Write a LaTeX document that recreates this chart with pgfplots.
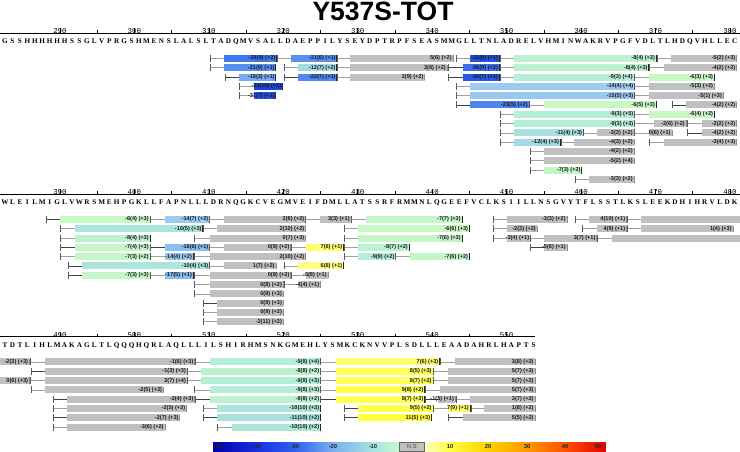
\documentclass[border=0pt]{standalone}
\usepackage{fontspec}
\setmainfont{Liberation Sans}
\newfontfamily\seqfont{Liberation Serif}
\newfontfamily\tickfont{Liberation Mono}
\usepackage{pgfplots}
\pgfplotsset{compat=1.18}

% peptide colours (deuterium uptake difference)
\definecolor{m33}{HTML}{1E46DC}
\definecolor{m31}{HTML}{2550E2}
\definecolor{m30}{HTML}{2A58E6}
\definecolor{m28}{HTML}{3F78EE}
\definecolor{m26}{HTML}{3A70EC}
\definecolor{m23}{HTML}{4E84F0}
\definecolor{m22}{HTML}{5088F0}
\definecolor{m21}{HTML}{5890F2}
\definecolor{m18}{HTML}{78ACF4}
\definecolor{m17}{HTML}{88BCF2}
\definecolor{m16}{HTML}{8CBEF2}
\definecolor{m15}{HTML}{98C8F0}
\definecolor{m14}{HTML}{9CCAF0}
\definecolor{m12}{HTML}{A4DAE6}
\definecolor{m11}{HTML}{A8E0E0}
\definecolor{m10}{HTML}{ACE6DA}
\definecolor{m9}{HTML}{B4EED6}
\definecolor{m8}{HTML}{BCF2D0}
\definecolor{m7}{HTML}{C4F6C8}
\definecolor{m6}{HTML}{C8F8C4}
\definecolor{ns}{HTML}{C0C0C0}
\definecolor{p6}{HTML}{FFFF80}
\definecolor{p7}{HTML}{FFFF6A}
\definecolor{p8}{HTML}{FFFF58}
\definecolor{p9}{HTML}{FFFF50}
\definecolor{p11}{HTML}{FFFF40}
\definecolor{lt}{HTML}{A0A0A0}
\definecolor{dk}{HTML}{404040}

\newlength\resw \setlength\resw{7.4447pt}
\def\spreadA#1{\ifx\relax#1\else\makebox[\resw][c]{#1}\expandafter\spreadA\fi}
\newcommand\spreadseq[1]{\spreadA#1\relax}

\def\nsname{ns}
% \pep{row}{start}{box start}{box end}{colour}{label}{line colour}
\newcommand\pep[7]{%
  \addplot[#7, line width=0.7pt] coordinates {(#2,-#1) (#3,-#1)};
  \addplot[#5, line width=7pt] coordinates {(#3,-#1) (#4,-#1)};
  \addplot[only marks, mark=|, mark size=3.5pt, mark options={draw=black!65, line width=0.6pt}] coordinates {(#2,-#1)};
  \def\tmpc{#5}%
  \ifx\tmpc\nsname
    \addplot[only marks, mark=|, mark size=3.2pt, mark options={draw=black!45, line width=0.6pt}] coordinates {(#4,-#1)};
  \else
    \addplot[only marks, mark=|, mark size=3.5pt, mark options={draw=black!85, line width=0.8pt}] coordinates {(#4,-#1)};
  \fi
  \node[lab] at (axis cs:#4,-#1) {#6};
}
% same, box starting at the left edge (no start tick)
\newcommand\pepe[5]{%
  \addplot[#3, line width=7pt] coordinates {(#2,-#1) (#4,-#1)};
  \addplot[only marks, mark=|, mark size=3.2pt, mark options={draw=black!45, line width=0.6pt}] coordinates {(#4,-#1)};
  \node[lab] at (axis cs:#4,-#1) {#5};
}

\pgfplotsset{
  rowax/.style={
    x=7.4447pt, y=9.3pt, anchor=north west, clip=false,
    axis x line*=top, axis y line=none, ytick=\empty,
    axis line style={black, line width=0.6pt},
    tick align=outside, major tick length=5pt, minor tick length=3pt,
    minor x tick num=1,
    tick style={black, line width=0.5pt},
    xticklabel style={font=\tickfont\fontsize{7.4}{8}\selectfont, inner sep=0.5pt, yshift=-6.3pt},
    /pgf/number format/assume math mode=true,
    ymax=2.74,
  },
}
\tikzset{
  lab/.style={anchor=east, inner sep=0.5pt, xshift=-0.6pt,
    font=\bfseries\fontsize{5.6}{6}\selectfont, text=black!90},
  seq/.style={anchor=west, inner sep=0pt,
    font=\seqfont\bfseries\fontsize{7.2}{8}\selectfont},
}

\begin{document}
\begin{tikzpicture}
\useasboundingbox (0pt,0pt) rectangle (740pt,-452pt);
\node[font=\bfseries\fontsize{26.5}{28}\selectfont, inner sep=0pt] at (383pt,-11.7pt) {Y537S-TOT};

% ---------------- residues 283-381
\begin{axis}[rowax, at={(0pt,-33pt)}, xmin=281.95, xmax=381.35, ymin=-14, xtick={290,300,...,380}]
\node[seq] at (axis cs:282.1,1.8) {\spreadseq{GSSHHHHHHSSGLVPRGSHMENSLALSLTADQMVSALLDAEPPILYSEYDPTRPFSEASMMGLLTNLADRELVHMINWAKRVPGFVDLTLHDQVHLLEC}};
\pep{0}{310.2}{312.0}{319.1}{m28}{-28(9) (+2)}{lt}
\pep{0}{319.2}{321.0}{327.2}{m21}{-21(6) (+1)}{lt}
\pep{0}{327.2}{329.0}{342.8}{ns}{5(6) (+2)}{lt}
\pep{0}{343.2}{345.1}{349.0}{m31}{-31(6) (+1)}{lt}
\pep{0}{349.2}{351.0}{370.1}{m8}{-8(4) (+3)}{lt}
\pep{0}{370.3}{372.1}{380.9}{ns}{-5(2) (+3)}{lt}
\pep{1}{310.2}{312.0}{319.0}{m21}{-21(9) (+1)}{lt}
\pep{1}{320.1}{322.0}{327.2}{m12}{-12(7) (+2)}{lt}
\pep{1}{327.2}{329.0}{342.0}{ns}{3(8) (+2)}{lt}
\pep{1}{342.2}{344.1}{349.0}{m26}{-26(9) (+2)}{dk}
\pep{1}{349.1}{351.0}{369.1}{m8}{-8(4) (+3)}{lt}
\pep{1}{369.2}{371.1}{380.9}{ns}{-4(2) (+2)}{lt}
\pep{2}{312.2}{314.0}{319.0}{m18}{-18(3) (+1)}{dk}
\pep{2}{320.1}{322.0}{327.2}{m22}{-22(7) (+1)}{dk}
\pep{2}{327.2}{329.0}{339.0}{ns}{2(9) (+2)}{lt}
\pep{2}{342.2}{344.1}{349.0}{m30}{-30(7) (+1)}{dk}
\pep{2}{349.1}{351.0}{367.1}{m9}{-9(3) (+4)}{lt}
\pep{2}{367.1}{369.1}{377.9}{m6}{-6(3) (+3)}{lt}
\pep{3}{314.1}{316.1}{319.9}{m33}{-33(10) (+1)}{lt}
\pep{3}{343.2}{345.1}{367.2}{m14}{-14(4) (+4)}{lt}
\pep{3}{367.2}{369.1}{377.9}{ns}{-5(3) (+2)}{lt}
\pep{4}{314.1}{316.1}{319.0}{m31}{-31(7) (+1)}{lt}
\pep{4}{343.2}{345.1}{367.2}{m15}{-15(5) (+3)}{lt}
\pep{4}{367.2}{369.1}{379.1}{ns}{-5(1) (+3)}{lt}
\pep{5}{343.2}{345.1}{353.0}{m23}{-23(5) (+2)}{dk}
\pep{5}{353.1}{355.0}{370.1}{m6}{-6(5) (+3)}{lt}
\pep{5}{372.2}{374.1}{380.9}{ns}{-4(2) (+2)}{dk}
\pep{6}{349.2}{351.0}{367.2}{m9}{-9(3) (+5)}{lt}
\pep{6}{367.2}{369.1}{377.9}{m6}{-6(4) (+2)}{lt}
\pep{7}{349.2}{351.0}{367.2}{m9}{-9(3) (+3)}{lt}
\pep{7}{367.2}{369.8}{374.1}{ns}{-2(6) (+2)}{lt}
\pep{7}{374.3}{376.2}{380.9}{ns}{-2(2) (+2)}{lt}
\pep{8}{349.2}{351.0}{360.3}{m11}{-11(4) (+3)}{lt}
\pep{8}{360.3}{362.1}{367.1}{ns}{-3(3) (+2)}{lt}
\pep{8}{367.1}{369.1}{372.2}{ns}{0(6) (+1)}{lt}
\pep{8}{374.3}{376.2}{380.9}{ns}{-4(2) (+2)}{dk}
\pep{9}{349.2}{351.0}{357.2}{m12}{-12(4) (+3)}{lt}
\pep{9}{357.3}{359.1}{367.1}{ns}{-4(3) (+2)}{lt}
\pep{9}{369.2}{371.1}{380.9}{ns}{-3(4) (+3)}{lt}
\pep{10}{353.2}{355.0}{367.1}{ns}{-4(2) (+2)}{lt}
\pep{11}{353.2}{355.0}{367.1}{ns}{-5(2) (+4)}{lt}
\pep{12}{353.2}{355.0}{360.1}{m7}{-7(3) (+2)}{lt}
\pep{13}{359.2}{361.1}{367.1}{ns}{-3(3) (+2)}{lt}
\end{axis}

% ---------------- residues 383-481
\begin{axis}[rowax, at={(0pt,-194pt)}, xmin=381.95, xmax=481.35, ymin=-12, xtick={390,400,...,480}]
\node[seq] at (axis cs:382.1,1.8) {\spreadseq{WLEILMIGLVWRSMEHPGKLLFAPNLLLDRNQGKCVEGMVEIFDMLLATSSRFRMMNLQGEEFVCLKSIILLNSGVYTFLSSTLKSLEEKDHIHRVLDK}};
\pep{0}{388.2}{390.0}{402.1}{m6}{-6(4) (+3)}{dk}
\pep{0}{402.2}{404.1}{410.1}{m14}{-14(7) (+2)}{lt}
\pep{0}{410.1}{412.0}{423.0}{ns}{2(8) (+2)}{lt}
\pep{0}{423.0}{425.0}{429.1}{ns}{3(3) (+1)}{lt}
\pep{0}{429.1}{431.1}{444.0}{m7}{-7(7) (+3)}{lt}
\pep{0}{448.2}{450.1}{458.1}{ns}{-3(3) (+2)}{lt}
\pep{0}{459.2}{461.1}{466.1}{ns}{4(10) (+1)}{lt}
\pep{0}{466.2}{468.1}{481.4}{ns}{}{lt}
\pep{1}{390.0}{392.0}{409.2}{m10}{-10(5) (+3)}{lt}
\pep{1}{409.2}{411.1}{423.0}{ns}{2(10) (+2)}{lt}
\pep{1}{428.2}{430.1}{445.0}{m6}{-6(6) (+3)}{lt}
\pep{1}{448.2}{450.1}{454.1}{ns}{-2(3) (+2)}{lt}
\pep{1}{460.2}{462.1}{466.1}{ns}{4(9) (+1)}{lt}
\pep{1}{466.2}{468.1}{480.4}{ns}{1(4) (+3)}{lt}
\pep{2}{390.0}{392.0}{402.1}{m8}{-8(4) (+3)}{lt}
\pep{2}{408.1}{410.1}{423.0}{ns}{0(7) (+3)}{lt}
\pep{2}{428.2}{430.1}{444.0}{m7}{-7(6) (+3)}{lt}
\pep{2}{448.2}{450.1}{453.2}{ns}{-3(4) (+1)}{lt}
\pep{2}{453.2}{455.0}{462.1}{ns}{3(7) (+1)}{lt}
\pep{2}{462.2}{464.1}{481.4}{ns}{}{lt}
\pep{3}{390.0}{392.0}{402.1}{m7}{-7(4) (+3)}{dk}
\pep{3}{402.2}{404.1}{410.1}{m16}{-16(6) (+1)}{dk}
\pep{3}{410.1}{412.0}{421.0}{ns}{0(8) (+2)}{lt}
\pep{3}{421.1}{423.0}{428.1}{p7}{7(6) (+1)}{lt}
\pep{3}{428.2}{430.1}{436.9}{m8}{-8(7) (+2)}{lt}
\pep{3}{453.2}{455.0}{458.1}{ns}{-5(6) (+1)}{dk}
\pep{4}{390.0}{392.0}{402.1}{m7}{-7(3) (+2)}{lt}
\pep{4}{402.2}{404.1}{407.9}{m14}{-14(4) (+2)}{lt}
\pep{4}{408.0}{410.1}{423.0}{ns}{2(10) (+2)}{lt}
\pep{4}{428.2}{430.1}{435.1}{m9}{-9(9) (+2)}{lt}
\pep{4}{435.1}{437.0}{445.0}{m7}{-7(6) (+2)}{lt}
\pep{5}{391.1}{393.0}{410.1}{m10}{-10(4) (+3)}{dk}
\pep{5}{410.1}{412.0}{419.0}{ns}{1(7) (+2)}{lt}
\pep{5}{420.1}{422.0}{428.1}{p6}{6(8) (+1)}{lt}
\pep{6}{391.1}{393.0}{402.1}{m7}{-7(3) (+3)}{dk}
\pep{6}{402.2}{404.1}{407.9}{m17}{-17(5) (+1)}{lt}
\pep{6}{408.0}{410.1}{421.0}{ns}{0(8) (+2)}{lt}
\pep{6}{421.1}{423.0}{426.0}{ns}{-5(8) (+1)}{lt}
\pep{7}{408.1}{410.1}{420.0}{ns}{0(8) (+2)}{lt}
\pep{7}{420.1}{422.0}{425.0}{ns}{-4(4) (+1)}{lt}
\pep{8}{408.1}{410.1}{420.0}{ns}{0(8) (+3)}{lt}
\pep{9}{409.2}{411.1}{420.0}{ns}{0(8) (+3)}{dk}
\pep{10}{409.2}{411.1}{420.0}{ns}{0(9) (+2)}{lt}
\pep{11}{409.2}{411.1}{420.0}{ns}{-2(11) (+2)}{lt}
\end{axis}

% ---------------- residues 483-554
\begin{axis}[rowax, at={(0pt,-336.5pt)}, xmin=481.95, xmax=553.8, ymin=-8, xtick={490,500,...,550}]
\node[seq] at (axis cs:482.1,1.8) {\spreadseq{TDTLIHLMAKAGLTLQQQHQRLAQLLLILSHIRHMSNKGMEHLYSMKCKNVVPLSDLLLEAADAHRLHAPTS}};
\pepe{0}{481.95}{ns}{485.9}{-2(3) (+3)}
\pep{0}{486.0}{488.0}{508.1}{ns}{-1(6) (+3)}{lt}
\pep{0}{508.2}{510.1}{525.0}{m9}{-9(8) (+4)}{lt}
\pep{0}{525.0}{527.1}{541.0}{p7}{7(6) (+3)}{lt}
\pep{0}{541.1}{543.1}{553.8}{ns}{3(8) (+2)}{lt}
\pep{1}{486.2}{488.0}{507.1}{ns}{-1(3) (+3)}{dk}
\pep{1}{507.1}{509.0}{525.0}{m8}{-8(8) (+2)}{lt}
\pep{1}{525.0}{527.1}{540.1}{p8}{8(5) (+3)}{lt}
\pep{1}{540.1}{542.1}{553.8}{ns}{5(7) (+3)}{lt}
\pepe{2}{481.95}{ns}{485.9}{0(6) (+3)}
\pep{2}{486.0}{488.0}{507.1}{ns}{2(7) (+4)}{lt}
\pep{2}{507.1}{509.0}{525.0}{m9}{-9(8) (+3)}{lt}
\pep{2}{525.0}{527.1}{540.1}{p8}{8(7) (+2)}{lt}
\pep{2}{540.1}{542.1}{553.8}{ns}{5(7) (+2)}{lt}
\pep{3}{486.2}{488.0}{503.9}{ns}{-2(5) (+3)}{lt}
\pep{3}{508.1}{510.1}{525.0}{m9}{-9(8) (+3)}{lt}
\pep{3}{525.0}{527.1}{539.0}{p9}{9(8) (+2)}{lt}
\pep{3}{539.1}{541.0}{553.8}{ns}{5(7) (+3)}{lt}
\pep{4}{489.1}{491.0}{508.1}{ns}{-2(4) (+3)}{dk}
\pep{4}{508.2}{510.1}{525.0}{m8}{-8(8) (+2)}{dk}
\pep{4}{525.0}{527.1}{539.0}{p8}{8(7) (+3)}{dk}
\pep{4}{539.1}{540.8}{543.1}{ns}{-1(5) (+1)}{dk}
\pep{4}{543.2}{545.1}{553.8}{ns}{3(7) (+2)}{lt}
\pep{5}{489.1}{491.0}{507.0}{ns}{-2(5) (+3)}{lt}
\pep{5}{509.2}{511.1}{525.0}{m10}{-10(10) (+3)}{lt}
\pep{5}{528.2}{530.1}{540.1}{p9}{9(5) (+2)}{dk}
\pep{5}{540.1}{542.1}{545.1}{p7}{7(9) (+1)}{lt}
\pep{5}{545.2}{547.0}{553.8}{ns}{1(8) (+2)}{lt}
\pep{6}{489.1}{491.0}{506.1}{ns}{-2(7) (+3)}{dk}
\pep{6}{509.2}{511.1}{525.0}{m11}{-11(10) (+2)}{dk}
\pep{6}{528.2}{530.1}{539.9}{p11}{11(5) (+3)}{dk}
\pep{6}{542.2}{544.1}{553.8}{ns}{5(5) (+2)}{dk}
\pep{7}{489.1}{491.0}{504.1}{ns}{-3(6) (+2)}{lt}
\pep{7}{511.1}{513.1}{525.0}{m10}{-10(10) (+2)}{lt}
\end{axis}

% ---------------- colour scale
\pgfplotsset{colormap={hdx}{rgb255(0pt)=(0,0,168) rgb255(43pt)=(26,48,224) rgb255(82pt)=(48,96,240) rgb255(120pt)=(120,176,240) rgb255(160pt)=(168,228,224) rgb255(186pt)=(200,248,208) rgb255(211pt)=(255,255,200) rgb255(237pt)=(255,255,64) rgb255(275pt)=(255,208,0) rgb255(314pt)=(255,152,0) rgb255(352pt)=(255,80,0) rgb255(393pt)=(224,0,0)}}
\begin{axis}[at={(213.3pt,-442pt)}, anchor=north west, x=1pt, y=9pt,
  xmin=213.3, xmax=606, ymin=0, ymax=1, hide axis, clip=false,
  colormap name=hdx, point meta min=213.3, point meta max=606]
\addplot[surf, shader=interp, point meta=x, mesh/rows=2] table {
x y
213.3 0
235 0
256.7 0
276 0
295 0
314 0
333 0
353 0
373 0
386 0
399 0
411.5 0
424 0
437 0
450 0
469 0
488 0
507.5 0
527 0
546 0
565 0
585.5 0
606 0
213.3 1
235 1
256.7 1
276 1
295 1
314 1
333 1
353 1
373 1
386 1
399 1
411.5 1
424 1
437 1
450 1
469 1
488 1
507.5 1
527 1
546 1
565 1
585.5 1
606 1
};
\addplot[fill=ns, draw=black!60, line width=0.6pt] coordinates {(399.3,0) (424.3,0) (424.3,1) (399.3,1)} -- cycle;
\foreach \p/\t in {218/-50,256.7/-40,295/-30,333/-20,373/-10,450/10,488/20,527/30,565/40,598/50}{
  \edef\tmp{\noexpand\node[font=\noexpand\bfseries\noexpand\fontsize{5.8}{6}\noexpand\selectfont, text=black!85, inner sep=0pt] at (axis cs:\p,0.5) {\t};}\tmp
}
\node[font=\fontsize{5.8}{6}\selectfont, text=black!70, inner sep=0pt] at (axis cs:411.8,0.5) {N.S};
\end{axis}
\end{tikzpicture}
\end{document}
